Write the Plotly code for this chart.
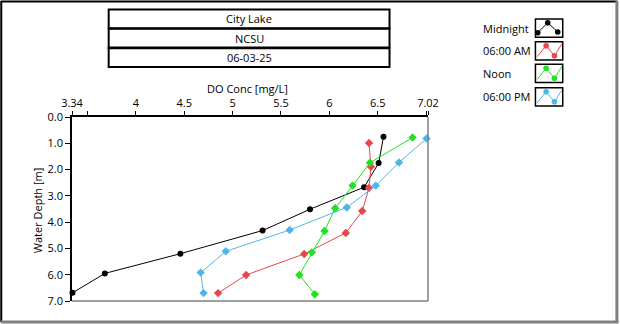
import plotly.graph_objects as go

# Dissolved oxygen profiles, City Lake (06-03-25)
midnight_do = [6.56, 6.51, 6.36, 5.80, 5.31, 4.46, 3.68, 3.345]
midnight_depth = [0.75, 1.75, 2.67, 3.51, 4.32, 5.20, 5.95, 6.69]

am6_do = [6.41, 6.43, 6.41, 6.34, 6.17, 5.74, 5.14, 4.85]
am6_depth = [0.99, 1.89, 2.70, 3.58, 4.41, 5.21, 6.01, 6.70]

noon_do = [6.86, 6.42, 6.24, 6.06, 5.95, 5.82, 5.69, 5.85]
noon_depth = [0.78, 1.74, 2.61, 3.47, 4.34, 5.15, 6.01, 6.74]

pm6_do = [7.005, 6.72, 6.48, 6.18, 5.59, 4.93, 4.67, 4.70]
pm6_depth = [0.82, 1.73, 2.61, 3.44, 4.30, 5.11, 5.92, 6.70]

series_names = ["Midnight", "06:00 AM", "Noon", "06:00 PM"]
series_colors = ["#000000", "#E8474A", "#22E022", "#4FB6E6"]
series_symbols = ["circle", "diamond", "diamond", "diamond"]

x_range = [3.34, 7.02]
x_tickvals = [3.34, 3.5, 4, 4.5, 5, 5.5, 6, 6.5, 7, 7.02]
x_ticktext = ["3.34", "", "4", "4.5", "5", "5.5", "6", "6.5", "", "7.02"]
y_tickvals = [0, 1, 2, 3, 4, 5, 6, 7]
y_ticktext = ["0.0", "1.0", "2.0", "3.0", "4.0", "5.0", "6.0", "7.0"]

header_lines = ["City Lake", "NCSU", "06-03-25"]

FONT = "Open Sans"
FS = 11
W, H = 620, 324
PL, PR, PT, PB = 72.3, 428.5, 117.0, 301.0


def px(x):
    return (x - PL) / (PR - PL)


def py(y):
    return (PB - y) / (PB - PT)


fig = go.Figure()
profiles = [(midnight_do, midnight_depth), (am6_do, am6_depth),
            (noon_do, noon_depth), (pm6_do, pm6_depth)]
for (xs, ys), name, color, sym in zip(profiles, series_names, series_colors, series_symbols):
    fig.add_trace(go.Scatter(
        x=xs, y=ys, name=name, mode="lines+markers",
        line=dict(color=color, width=1),
        marker=dict(color=color, size=6 if sym == "circle" else 6.5, symbol=sym),
        cliponaxis=False, showlegend=False,
    ))

shapes = []
annotations = []

# outer panel frame: dark top/left, grey bottom/right
shapes.append(dict(type="line", xref="paper", yref="paper", x0=px(1.5), x1=px(1.5),
                   y0=py(1), y1=py(322), line=dict(color="#000000", width=2)))
shapes.append(dict(type="line", xref="paper", yref="paper", x0=px(1), x1=px(618),
                   y0=py(1.5), y1=py(1.5), line=dict(color="#000000", width=2)))
shapes.append(dict(type="line", xref="paper", yref="paper", x0=px(617.5), x1=px(617.5),
                   y0=py(1), y1=py(323), line=dict(color="#808080", width=3)))
shapes.append(dict(type="line", xref="paper", yref="paper", x0=px(1), x1=px(619),
                   y0=py(322), y1=py(322), line=dict(color="#808080", width=3)))

# plot area right/bottom edges in grey
shapes.append(dict(type="line", xref="paper", yref="paper", x0=1, x1=1, y0=0, y1=1,
                   line=dict(color="#808080", width=1.5)))
shapes.append(dict(type="line", xref="paper", yref="paper", x0=0, x1=1, y0=0, y1=0,
                   line=dict(color="#808080", width=1.5)))

# header boxes
row_tops = [9.5, 28.8, 48.2]
row_bots = [28.2, 47.5, 67.0]
for text, t, b in zip(header_lines, row_tops, row_bots):
    shapes.append(dict(type="rect", xref="paper", yref="paper", x0=px(109), x1=px(390),
                       y0=py(b), y1=py(t), line=dict(color="#000000", width=2)))
    annotations.append(dict(text=text, xref="paper", yref="paper", x=px(249.5),
                            y=py((t + b) / 2), showarrow=False, xanchor="center",
                            yanchor="middle", font=dict(family=FONT, size=FS, color="#000000")))

# legend: labels plus small boxed icons
icon_tops = [19.0, 41.7, 64.3, 87.7]
for i, (name, color, top) in enumerate(zip(series_names, series_colors, icon_tops)):
    bot = top + 18.3
    annotations.append(dict(text=name, xref="paper", yref="paper", x=px(481.5),
                            y=py(top + 9), showarrow=False, xanchor="left", yanchor="middle",
                            font=dict(family=FONT, size=FS, color="#000000")))
    shapes.append(dict(type="rect", xref="paper", yref="paper", x0=px(536), x1=px(563.3),
                       y0=py(bot), y1=py(top), line=dict(color="#000000", width=1.5),
                       fillcolor="#FFFFFF"))
    if i == 0:
        pts = [(538.3, top + 13.7), (548.3, top + 3.7), (558.3, top + 13.0)]
        dots = pts
    else:
        pts = [(537.7, top + 15.0), (546.7, top + 4.0), (555.0, top + 14.0), (562.3, top + 2.5)]
        dots = pts[1:3]
    path = "M " + " L ".join(f"{px(a)},{py(b)}" for a, b in pts)
    shapes.append(dict(type="path", xref="paper", yref="paper", path=path,
                       line=dict(color=color, width=1)))
    for a, b in dots:
        shapes.append(dict(type="circle", xref="paper", yref="paper",
                           x0=px(a - 2.8), x1=px(a + 2.8), y0=py(b + 2.8), y1=py(b - 2.8),
                           fillcolor=color, line=dict(color=color, width=0)))

# axis titles
annotations.append(dict(text="DO Conc [mg/L]", xref="paper", yref="paper", x=px(248),
                        y=py(88), showarrow=False, xanchor="center", yanchor="middle",
                        font=dict(family=FONT, size=FS, color="#000000")))
annotations.append(dict(text="Water Depth [m]", xref="paper", yref="paper", x=px(37.5),
                        y=py(210), showarrow=False, xanchor="center", yanchor="middle",
                        textangle=-90, font=dict(family=FONT, size=FS, color="#000000")))

fig.update_layout(
    width=W, height=H, autosize=False,
    margin=dict(l=PL, r=W - PR, t=PT, b=H - PB, pad=0),
    paper_bgcolor="#FFFFFF", plot_bgcolor="#FFFFFF",
    font=dict(family=FONT, size=FS, color="#000000"),
    shapes=shapes, annotations=annotations,
    xaxis=dict(side="top", range=x_range, tickvals=x_tickvals, ticktext=x_ticktext,
               ticks="outside", ticklen=4, tickcolor="#000000", tickwidth=1,
               showline=True, linecolor="#000000", linewidth=1.5,
               showgrid=False, zeroline=False, fixedrange=True,
               tickfont=dict(family=FONT, size=FS)),
    yaxis=dict(range=[7, 0], tickvals=y_tickvals, ticktext=y_ticktext,
               ticks="outside", ticklen=5, tickcolor="#000000", tickwidth=1,
               showline=True, linecolor="#000000", linewidth=1.5,
               showgrid=False, zeroline=False, fixedrange=True,
               tickfont=dict(family=FONT, size=FS)),
)

fig.write_html("out.html")
